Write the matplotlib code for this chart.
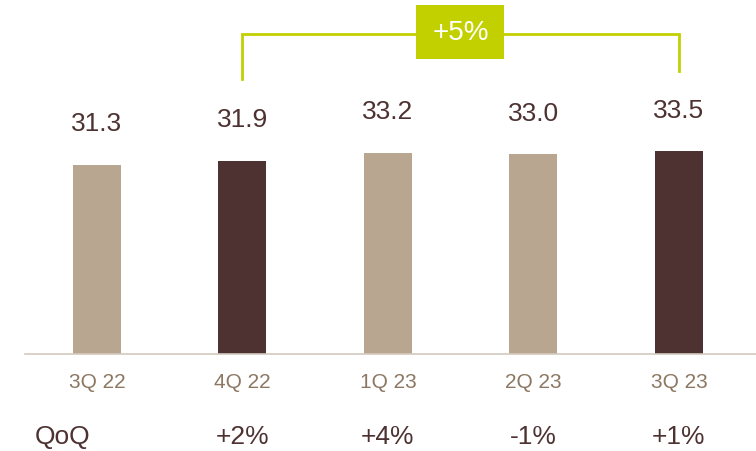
import matplotlib
matplotlib.use("Agg")
import matplotlib.pyplot as plt
from matplotlib.patches import Rectangle

# data
quarters = ["3Q 22", "4Q 22", "1Q 23", "2Q 23", "3Q 23"]
values = [31.3, 31.9, 33.2, 33.0, 33.5]
qoq = ["", "+2%", "+4%", "-1%", "+1%"]
highlight = [False, True, False, False, True]
growth_label = "+5%"

LIGHT = "#b8a690"
DARK = "#4e3232"
CAT = "#8c7862"
GREEN = "#c3d000"

plt.rcParams['font.family'] = ['Liberation Sans', 'DejaVu Sans']

fig = plt.figure(figsize=(7.56, 4.52), dpi=100)
ax = fig.add_axes([25 / 756, 97 / 452, 731 / 756, 355 / 452])

x = list(range(len(values)))
colors = [DARK if h else LIGHT for h in highlight]
ax.bar(x, values, width=0.33, color=colors)

ax.set_xlim(-0.495, 4.53)
ax.set_ylim(0, 58.7)
for s in ["top", "right", "left"]:
    ax.spines[s].set_visible(False)
ax.spines["bottom"].set_color("#d3c9bd")
ax.spines["bottom"].set_linewidth(1.2)
ax.set_xticks([])
ax.set_yticks([])

for xi, v in zip(x, values):
    ax.text(xi, v + 6.9, f"{v:.1f}", ha="center", va="center",
            fontsize=19, color=DARK)

for xi, q in zip(x, quarters):
    ax.text(xi, -4.6, q, ha="center", va="center", fontsize=15,
            color=CAT, clip_on=False)

ax.text(-0.43, -13.6, "QoQ", ha="left", va="center", fontsize=19,
        color=DARK, clip_on=False)
for xi, q in zip(x, qoq):
    if q:
        ax.text(xi, -13.6, q, ha="center", va="center", fontsize=19,
                color=DARK, clip_on=False)

# bracket 4Q 22 -> 3Q 23
ax.plot([1, 1, 4, 4], [45.5, 52.9, 52.9, 46.8], color=GREEN, lw=2,
        clip_on=False, solid_joinstyle="miter")
ax.add_patch(Rectangle((2.19, 48.8), 0.61, 8.9, facecolor=GREEN,
                       edgecolor="none", zorder=3, clip_on=False))
ax.text(2.5, 53.3, growth_label, ha="center", va="center", fontsize=20,
        color="white", zorder=4)

fig.savefig("out.png", dpi=100)
